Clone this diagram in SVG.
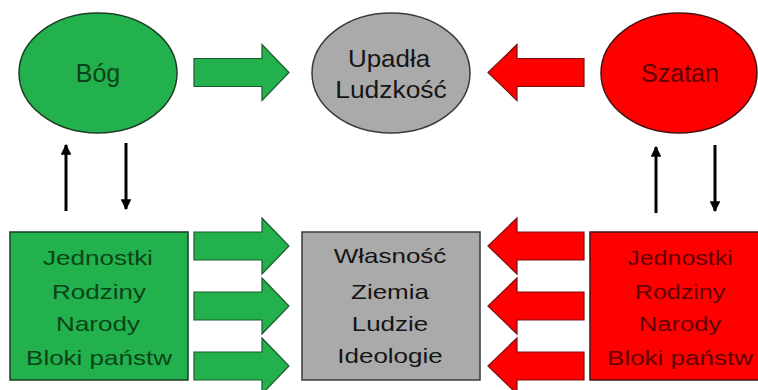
<svg xmlns="http://www.w3.org/2000/svg" width="758" height="390" viewBox="0 0 758 390">
<defs>
<style>
.g{fill:#22b14c;stroke:#1d3d25;stroke-width:1.5}
.r{fill:#ff0000;stroke:#4a1010;stroke-width:1.5}
.k{fill:#aaaaaa;stroke:#3a3a3a;stroke-width:1.5}
.ga{fill:#22b14c;stroke:#1a5a2c;stroke-width:1.2}
.ra{fill:#ff0000;stroke:#7a1010;stroke-width:1.2}
.t{font-family:"Liberation Sans",Arial,sans-serif;text-anchor:middle}
.big{font-size:25px}
.sm{font-size:20px}
.tg{fill:#0b4418}
.tr{fill:#600000}
.tk{fill:#151515}
.v{stroke:#000;stroke-width:3;fill:none}
</style>
<path id="ar" d="M0,-14 H68 V-28 L95,0 L68,28 V14 H0 Z"/>
<path id="al" d="M96,-14 H29 V-28 L0,0 L29,28 V14 H96 Z"/>
<marker id="mh" viewBox="0 0 10 10" refX="9" refY="5" markerWidth="3.6" markerHeight="3.6" orient="auto" markerUnits="strokeWidth">
<path d="M0,0 L10,5 L0,10 Z" fill="#000"/>
</marker>
</defs>
<rect width="758" height="390" fill="#ffffff"/>

<g id="bog">
<ellipse class="g" cx="98" cy="73" rx="79" ry="60"/>
<text class="t big tg" x="98" y="82">Bóg</text>
</g>
<g id="upadla">
<ellipse class="k" cx="391" cy="73" rx="79" ry="60"/>
<text class="t tk" font-size="24" transform="translate(389,67) scale(1.08,1)">Upadła</text>
<text class="t tk" font-size="24" transform="translate(391,98) scale(1.1,1)">Ludzkość</text>
</g>
<g id="szatan">
<ellipse class="r" cx="679" cy="73" rx="78" ry="60"/>
<text class="t big tr" x="680" y="82">Szatan</text>
</g>

<g id="left-box">
<rect class="g" x="10" y="232" width="178" height="148"/>
<text class="t sm tg" transform="translate(98,265) scale(1.3,1)">Jednostki</text>
<text class="t sm tg" transform="translate(99,299) scale(1.3,1)">Rodziny</text>
<text class="t sm tg" transform="translate(98,331) scale(1.3,1)">Narody</text>
<text class="t sm tg" transform="translate(99,365) scale(1.3,1)">Bloki państw</text>
</g>
<g id="middle-box">
<rect class="k" x="302" y="232" width="178" height="148"/>
<text class="t sm tk" transform="translate(390,263) scale(1.3,1)">Własność</text>
<text class="t sm tk" transform="translate(390,299) scale(1.3,1)">Ziemia</text>
<text class="t sm tk" transform="translate(390,331) scale(1.3,1)">Ludzie</text>
<text class="t sm tk" transform="translate(390,363) scale(1.3,1)">Ideologie</text>
</g>
<g id="right-box">
<rect class="r" x="590" y="232" width="180" height="148"/>
<text class="t sm tr" transform="translate(680,265) scale(1.25,1)">Jednostki</text>
<text class="t sm tr" transform="translate(680,299) scale(1.25,1)">Rodziny</text>
<text class="t sm tr" transform="translate(680,331) scale(1.28,1)">Narody</text>
<text class="t sm tr" transform="translate(680,365) scale(1.3,1)">Bloki państw</text>
</g>

<g id="connectors">
<use href="#ar" class="ga" transform="translate(194,72.5)"/>
<use href="#al" class="ra" transform="translate(488,72.5)"/>
<use href="#ar" class="ga" transform="translate(194,246)"/>
<use href="#ar" class="ga" transform="translate(194,306)"/>
<use href="#ar" class="ga" transform="translate(194,366)"/>
<use href="#al" class="ra" transform="translate(488,246)"/>
<use href="#al" class="ra" transform="translate(488,306)"/>
<use href="#al" class="ra" transform="translate(488,366)"/>
<line class="v" x1="66" y1="211" x2="66" y2="145" marker-end="url(#mh)"/>
<line class="v" x1="126" y1="143" x2="126" y2="209" marker-end="url(#mh)"/>
<line class="v" x1="656" y1="213" x2="656" y2="147" marker-end="url(#mh)"/>
<line class="v" x1="715" y1="145" x2="715" y2="211" marker-end="url(#mh)"/>
</g>
</svg>
